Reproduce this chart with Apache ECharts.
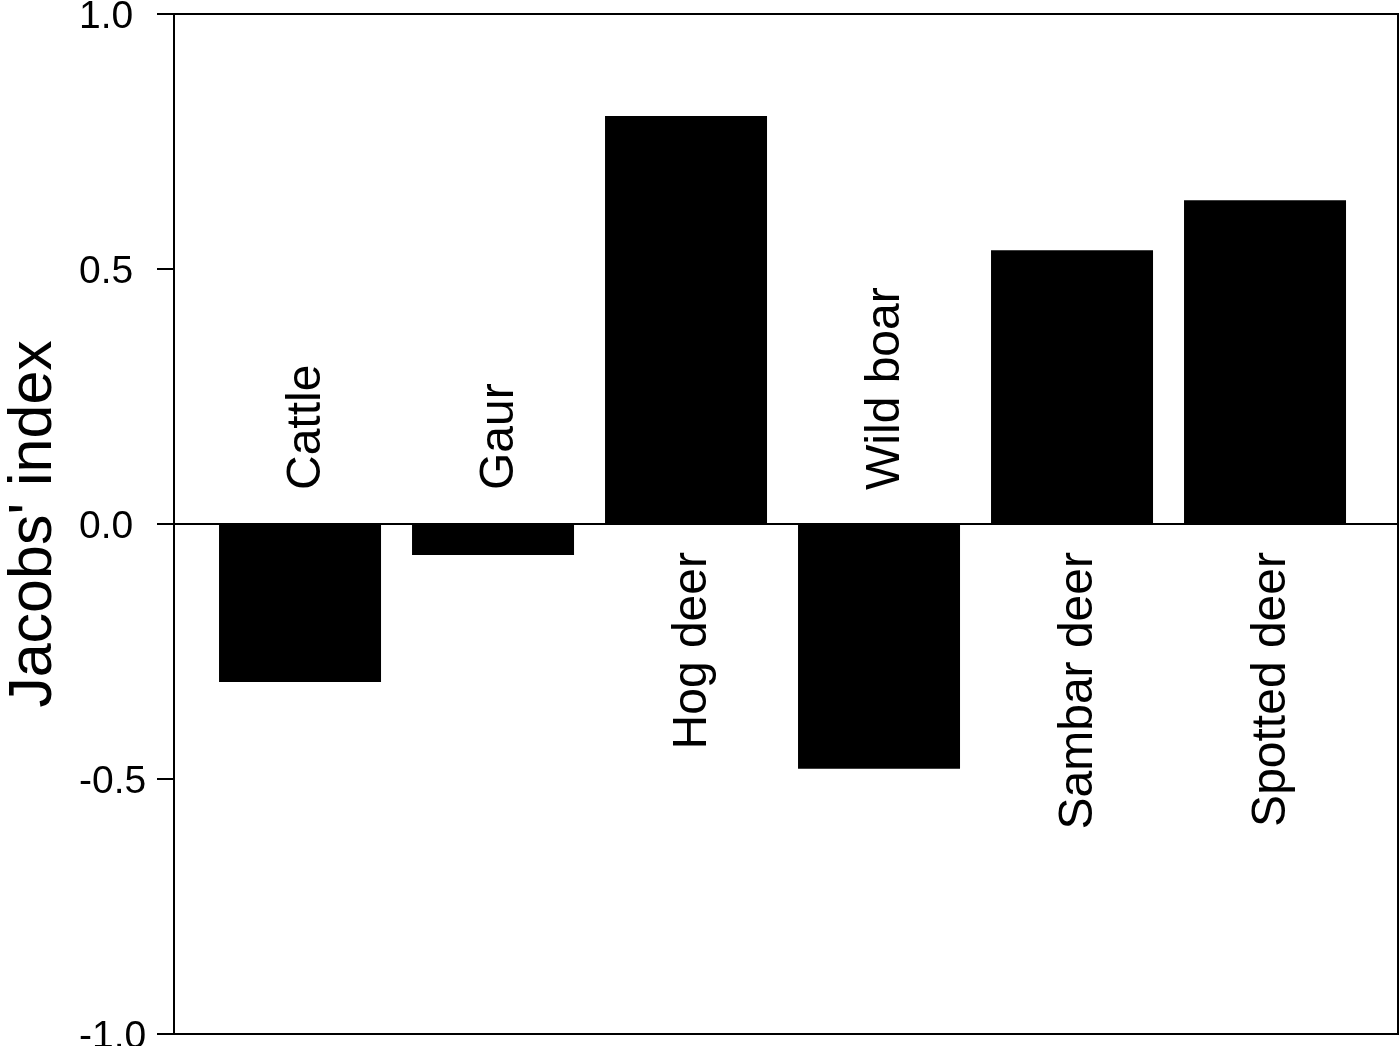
<!DOCTYPE html>
<html><head><meta charset="utf-8">
<script src="https://cdn.jsdelivr.net/npm/echarts@6/dist/echarts.min.js"></script>
<style>html,body{margin:0;padding:0;background:#fff}#c{width:1400px;height:1046px}</style>
</head><body><div id="c"></div>
<script>
const categories = ["Cattle", "Gaur", "Hog deer", "Wild boar", "Sambar deer", "Spotted deer"];
const values = [-0.31, -0.061, 0.80, -0.48, 0.537, 0.635];
const yTicks = ["-1.0", "-0.5", "0.0", "0.5", "1.0"];

const FONT = "'Liberation Sans', Arial, sans-serif";
const chart = echarts.init(document.getElementById('c'), null, {renderer: 'canvas'});
chart.setOption({
  animation: false,
  backgroundColor: '#fff',
  grid: {left: 174, right: 2, top: 14, bottom: 12, show: true, borderColor: '#000', borderWidth: 2,
    backgroundColor: 'transparent', containLabel: false, outerBoundsMode: 'none'},
  xAxis: {
    type: 'value', min: -0.653, max: 5.689,
    axisLine: {show: true, onZero: true, lineStyle: {color: '#000', width: 2}},
    axisTick: {show: false}, axisLabel: {show: false}, splitLine: {show: false}
  },
  yAxis: {
    type: 'value', min: -1, max: 1, interval: 0.5,
    name: "Jacobs' index", nameLocation: 'middle', nameGap: 109, nameRotate: 90,
    nameTextStyle: {fontFamily: FONT, fontSize: 61, color: '#000'},
    axisLine: {show: true, onZero: false, lineStyle: {color: '#000', width: 2}},
    axisTick: {show: true, inside: false, length: 17, lineStyle: {color: '#000', width: 2}},
    axisLabel: {margin: 95, align: 'left', verticalAlign: 'top', lineHeight: 6,
      fontFamily: FONT, fontSize: 39, color: '#000',
      formatter: v => yTicks[Math.round((v + 1) / 0.5)]},
    splitLine: {show: false}
  },
  series: [
    {
      type: 'bar', barWidth: 162,
      itemStyle: {color: '#000'},
      data: values.map((v, i) => [i, v]),
      z: 3
    },
    {
      type: 'scatter', symbolSize: 0.001, silent: true,
      itemStyle: {opacity: 1, color: '#000'},
      data: values.map((v, i) => ({
        value: [i, 0],
        label: {
          show: true,
          formatter: categories[i],
          position: v < 0 ? 'top' : 'bottom',
          distance: v < 0 ? 34 : 28,
          rotate: 90,
          align: v < 0 ? 'left' : 'right',
          verticalAlign: 'middle',
          offset: [0, 7],
          opacity: 1,
          fontFamily: FONT, fontSize: 48, color: '#000'
        }
      })),
      z: 4
    }
  ]
});
</script></body></html>
